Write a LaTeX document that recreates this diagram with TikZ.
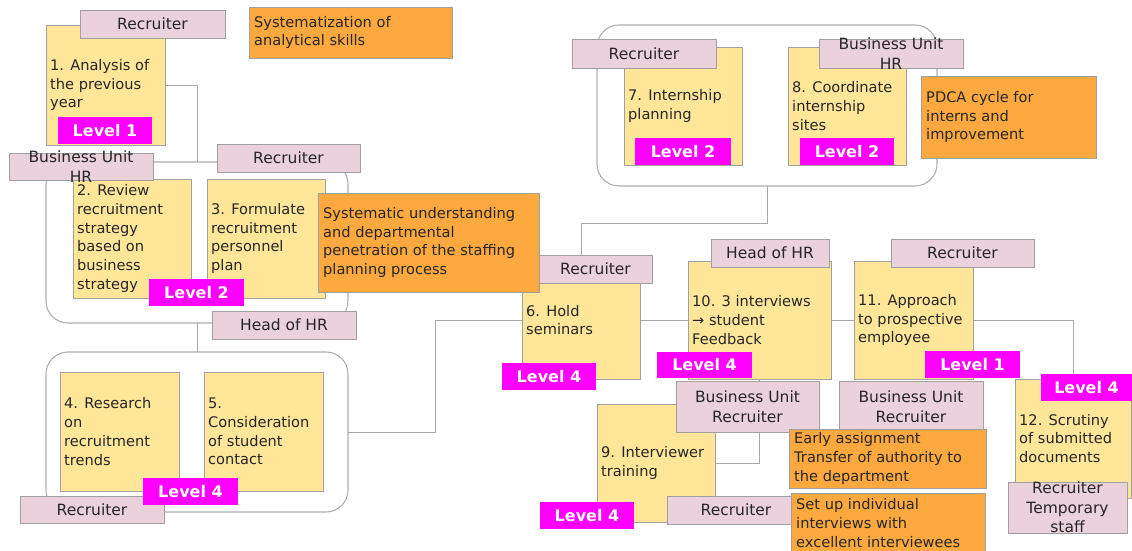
\documentclass[tikz,border=0pt]{standalone}
\usepackage{fontspec}
\setmainfont{DejaVu Sans}
\usetikzlibrary{fit}

\definecolor{taskfill}{HTML}{FFE699}
\definecolor{rolefill}{HTML}{EAD1DC}
\definecolor{notefill}{HTML}{FDA93F}
\definecolor{tagfill}{HTML}{FF00FF}
\definecolor{edgegray}{HTML}{A0A0A0}
\definecolor{groupgray}{HTML}{AFAFAF}
\definecolor{wiregray}{HTML}{A8A8A8}
\definecolor{ink}{HTML}{262626}

\tikzset{
  box/.style={inner sep=0pt, outer sep=0pt, line width=0.8pt, draw=edgegray},
  task/.style={box, fill=taskfill, fit={#1}},
  role/.style={box, fill=rolefill, fit={#1}},
  note/.style={box, fill=notefill, fit={#1}},
  tag/.style={inner sep=0pt, outer sep=0pt, fill=tagfill, fit={#1}},
  tagtext/.style={inner sep=0pt, text=white,
    font=\fontsize{16}{19}\selectfont\bfseries},
  grp/.style={inner sep=0pt, outer sep=0pt, draw=groupgray, line width=1.1pt,
    rounded corners=22pt, fill=white, fit={#1}},
  wire/.style={draw=wiregray, line width=1pt},
  body/.style={inner sep=0pt, anchor=west, align=left, text=ink,
    font=\fontsize{14.6}{18.8}\selectfont},
  roletext/.style={inner sep=0pt, align=center, text=ink,
    font=\fontsize{15.5}{19.5}\selectfont},
}

\begin{document}
\begin{tikzpicture}[x=1pt,y=-1pt]
\useasboundingbox (0,0) rectangle (1132,551);

% rounded group frames
\node[grp={(46,162) (348,323)}] (g1) {};
\node[grp={(46,352) (348,512)}] (g2) {};
\node[grp={(597,25) (937,186)}] (g3) {};

% task boxes
\node[task={(46,25) (165,145)}] (t1) {};
\node[task={(73,179) (191,298)}] (t2) {};
\node[task={(207,179) (325,298)}] (t3) {};
\node[task={(60,372) (179,491)}] (t4) {};
\node[task={(204,372) (323,491)}] (t5) {};
\node[task={(522,261) (640,379)}] (t6) {};
\node[task={(624,47) (742,165)}] (t7) {};
\node[task={(788,47) (906,165)}] (t8) {};
\node[task={(597,404) (715,522)}] (t9) {};
\node[task={(688,261) (831,379)}] (t10) {};
\node[task={(854,261) (973,379)}] (t11) {};
\node[task={(1015,379) (1131,498)}] (t12) {};

% connectors
\draw[wire] (t1.east) -| (g1.north);
\draw[wire] (g1.south) -- (g2.north);
\draw[wire] (g2.east) -- ++(87,0) |- (t6.west);
\draw[wire] (t6.north) -- ++(0,-38) -| (g3.south);
\draw[wire] (t6.east) -- (t10.west);
\draw[wire] (t10.east) -- (t11.west);
\draw[wire] (t11.east) -| (t12.north);
\draw[wire] (t10.south) |- (t9.east);

% redraw boxes over the connector ends
\foreach \t in {t1,t6,t9,t10,t11,t12}{
  \path[draw=edgegray, line width=0.8pt, fill=taskfill]
    (\t.north west) rectangle (\t.south east);
}

% task texts
\node[body] (t1x) at ([xshift=4pt]t1.west) {1. Analysis of\\the previous\\year};
\node[body] (t2x) at ([xshift=4pt]t2.west) {2. Review\\recruitment\\strategy\\based on\\business\\strategy};
\node[body] (t3x) at ([xshift=4pt]t3.west) {3. Formulate\\recruitment\\personnel\\plan};
\node[body] (t4x) at ([xshift=4pt]t4.west) {4. Research\\on\\recruitment\\trends};
\node[body] (t5x) at ([xshift=4pt]t5.west) {5.\\Consideration\\of student\\contact};
\node[body] (t6x) at ([xshift=4pt]t6.west) {6. Hold\\seminars};
\node[body] (t7x) at ([xshift=4pt]t7.west) {7. Internship\\planning};
\node[body] (t8x) at ([xshift=4pt]t8.west) {8. Coordinate\\internship\\sites};
\node[body] (t9x) at ([xshift=4pt]t9.west) {9. Interviewer\\training};
\node[body] (t10x) at ([xshift=4pt]t10.west) {10. 3 interviews\\→ student\\Feedback};
\node[body] (t11x) at ([xshift=4pt]t11.west) {11. Approach\\to prospective\\employee};
\node[body] (t12x) at ([xshift=4pt]t12.west) {12. Scrutiny\\of submitted\\documents};

% role labels
\node[role={(80,10) (225,38)}] (r1) {};
\node[roletext] (r1x) at (r1) {Recruiter};
\node[role={(9,153) (153,180)}] (r2) {};
\node[roletext] (r2x) at (r2) {Business Unit\\HR};
\node[role={(217,144) (360,172)}] (r3) {};
\node[roletext] (r3x) at (r3) {Recruiter};
\node[role={(212,311) (356,339)}] (r4) {};
\node[roletext] (r4x) at (r4) {Head of HR};
\node[role={(20,496) (164,523)}] (r5) {};
\node[roletext] (r5x) at (r5) {Recruiter};
\node[role={(539,255) (652,283)}] (r6) {};
\node[roletext] (r6x) at (r6) {Recruiter};
\node[role={(572,39) (716,68)}] (r7) {};
\node[roletext] (r7x) at (r7) {Recruiter};
\node[role={(819,39) (963,68)}] (r8) {};
\node[roletext] (r8x) at (r8) {Business Unit\\HR};
\node[role={(711,239) (829,267)}] (r9) {};
\node[roletext] (r9x) at (r9) {Head of HR};
\node[role={(891,239) (1034,267)}] (r10) {};
\node[roletext] (r10x) at (r10) {Recruiter};
\node[role={(676,381) (819,432)}] (r11) {};
\node[roletext] (r11x) at (r11) {Business Unit\\Recruiter};
\node[role={(839,381) (983,432)}] (r12) {};
\node[roletext] (r12x) at (r12) {Business Unit\\Recruiter};
\node[role={(667,496) (805,524)}] (r13) {};
\node[roletext] (r13x) at (r13) {Recruiter};
\node[role={(1008,482) (1127,533)}] (r14) {};
\node[roletext] (r14x) at (r14) {Recruiter\\Temporary\\staff};

% level tags
\node[tag={(58,117) (152,144)}] (l1) {};
\node[tagtext] (l1x) at (l1) {Level 1};
\node[tag={(149,279) (244,306)}] (l2) {};
\node[tagtext] (l2x) at (l2) {Level 2};
\node[tag={(143,478) (238,505)}] (l3) {};
\node[tagtext] (l3x) at (l3) {Level 4};
\node[tag={(635,138) (731,165)}] (l4) {};
\node[tagtext] (l4x) at (l4) {Level 2};
\node[tag={(800,138) (894,165)}] (l5) {};
\node[tagtext] (l5x) at (l5) {Level 2};
\node[tag={(502,363) (596,390)}] (l6) {};
\node[tagtext] (l6x) at (l6) {Level 4};
\node[tag={(657,352) (752,378)}] (l7) {};
\node[tagtext] (l7x) at (l7) {Level 4};
\node[tag={(925,351) (1020,378)}] (l8) {};
\node[tagtext] (l8x) at (l8) {Level 1};
\node[tag={(1041,374) (1132,401)}] (l9) {};
\node[tagtext] (l9x) at (l9) {Level 4};
\node[tag={(540,502) (634,529)}] (l10) {};
\node[tagtext] (l10x) at (l10) {Level 4};

% orange notes
\node[note={(249,7) (452,58)}] (n1) {};
\node[body] (n1x) at ([xshift=5pt]n1.west) {Systematization of\\analytical skills};
\node[note={(318,193) (539,292)}] (n2) {};
\node[body] (n2x) at ([xshift=5pt]n2.west) {Systematic understanding\\and departmental\\penetration of the staffing\\planning process};
\node[note={(921,76) (1096,158)}] (n3) {};
\node[body] (n3x) at ([xshift=5pt]n3.west) {PDCA cycle for\\interns and\\improvement};
\node[note={(789,429) (986,488)}] (n4) {};
\node[body] (n4x) at ([xshift=5pt]n4.west) {Early assignment\\Transfer of authority to\\the department};
\node[note={(791,493) (985,553)}] (n5) {};
\node[body] (n5x) at ([xshift=5pt]n5.west) {Set up individual\\interviews with\\excellent interviewees};
\end{tikzpicture}
\end{document}
